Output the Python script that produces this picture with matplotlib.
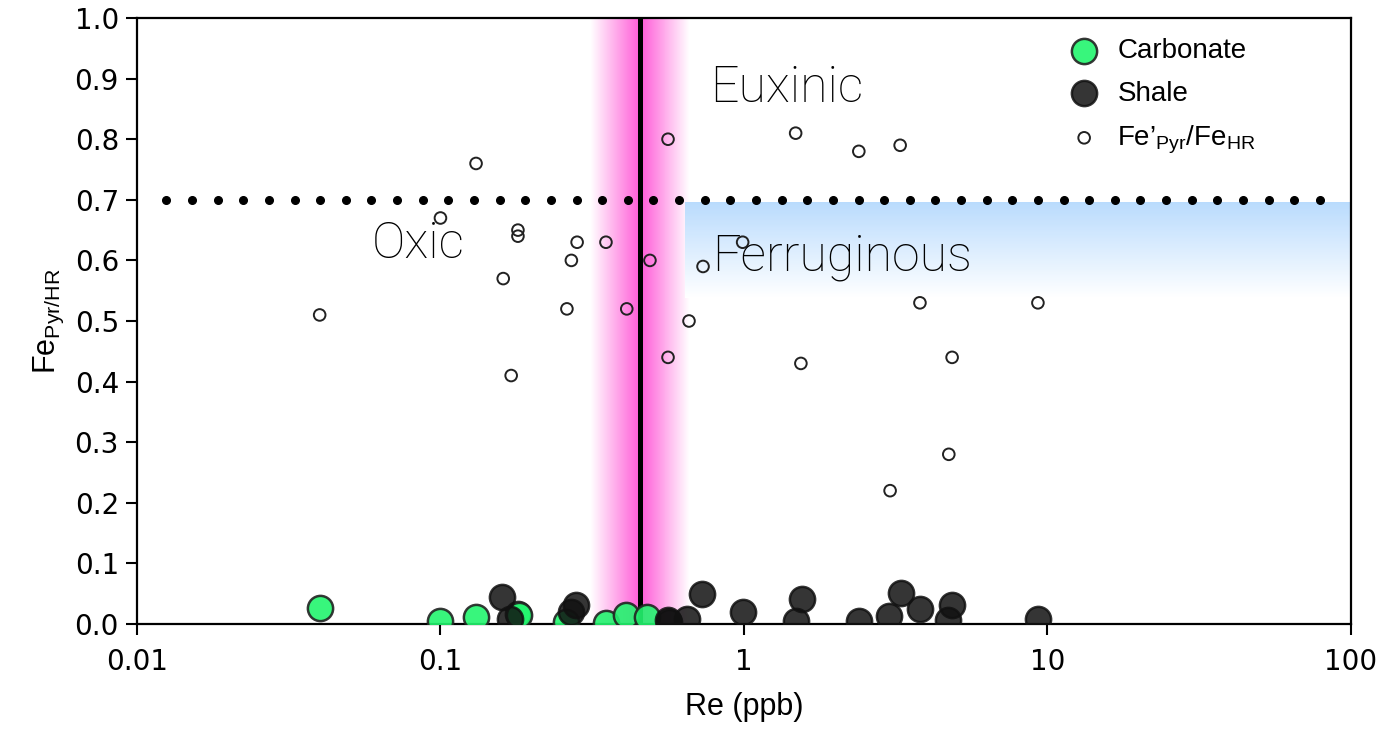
import numpy as np
import matplotlib
matplotlib.use("Agg")
import matplotlib.pyplot as plt
from matplotlib.colors import LinearSegmentedColormap
from matplotlib.ticker import FixedLocator, FixedFormatter, NullLocator

plt.rcParams['font.family'] = ['Liberation Sans', 'DejaVu Sans']
plt.rcParams['mathtext.fontset'] = 'custom'
plt.rcParams['mathtext.rm'] = 'Liberation Sans'
plt.rcParams['mathtext.it'] = 'Liberation Sans:italic'

# Fe'pyr/FeHR ratios (open circles)
re_ratio = [0.040, 0.100, 0.131, 0.161, 0.171, 0.180, 0.180, 0.261, 0.270, 0.282,
            0.351, 0.411, 0.490, 0.562, 0.562, 0.659, 0.733, 0.990, 1.48, 1.54,
            2.39, 3.03, 3.27, 3.80, 4.73, 4.85, 9.30]
fe_ratio = [0.51, 0.67, 0.76, 0.57, 0.41, 0.65, 0.64, 0.52, 0.60, 0.63,
            0.63, 0.52, 0.60, 0.80, 0.44, 0.50, 0.59, 0.63, 0.81, 0.43,
            0.78, 0.22, 0.79, 0.53, 0.28, 0.44, 0.53]

# carbonate samples
re_carb = [0.040, 0.100, 0.131, 0.180, 0.182, 0.260, 0.350, 0.410, 0.480]
fe_carb = [0.026, 0.005, 0.012, 0.017, 0.014, 0.004, 0.002, 0.014, 0.011]

# shale samples
re_shale = [0.160, 0.170, 0.270, 0.280, 0.560, 0.565, 0.650, 0.730, 0.990, 1.48,
            1.55, 2.40, 3.00, 3.30, 3.80, 4.70, 4.85, 9.30]
fe_shale = [0.045, 0.009, 0.020, 0.031, 0.007, 0.004, 0.009, 0.050, 0.020, 0.005,
            0.041, 0.005, 0.013, 0.051, 0.024, 0.006, 0.031, 0.009]

re_ticks = [0.01, 0.1, 1, 10, 100]
re_tick_labels = ['0.01', '0.1', '1', '10', '100']
fe_ticks = [round(0.1 * i, 1) for i in range(11)]

re_threshold = 0.455      # vertical boundary
fe_euxinic = 0.7          # Fe pyr/HR threshold
pink_band = (0.311, 0.664)
blue_band = (0.64, 100, 0.538, 0.697)

fig = plt.figure(figsize=(13.79, 7.48), dpi=100)
ax = fig.add_axes([0.0993, 0.1658, 0.8804, 0.8101])
ax.set_xscale('log')
ax.set_xlim(0.01, 100)
ax.set_ylim(0, 1.0)

# pink gradient band around the boundary
pink = LinearSegmentedColormap.from_list('pk', ['#ffffff', '#ff5ad7'])
xe = np.logspace(np.log10(pink_band[0]), np.log10(pink_band[1]), 201)
xc = np.sqrt(xe[:-1] * xe[1:])
lx = np.log10(xc)
l0, l1, lt = np.log10(pink_band[0]), np.log10(pink_band[1]), np.log10(re_threshold)
t = np.where(lx < lt, (lx - l0) / (lt - l0), (l1 - lx) / (l1 - lt))
ax.pcolormesh(xe, [0, 1], t[None, :], cmap=pink, vmin=0, vmax=1,
              shading='flat', zorder=0.5, rasterized=True)

# blue gradient under the 0.7 line
blue = LinearSegmentedColormap.from_list('bl', ['#ffffff', '#b9dbfd'])
ye = np.linspace(blue_band[2], blue_band[3], 80)
yc = (ye[:-1] + ye[1:]) / 2
tb = (yc - blue_band[2]) / (blue_band[3] - blue_band[2])
ax.pcolormesh([blue_band[0], blue_band[1]], ye, tb[:, None], cmap=blue,
              vmin=0, vmax=1, shading='flat', zorder=0.6, rasterized=True)

# dotted threshold line
xd = np.logspace(np.log10(0.0125), np.log10(79), 46)
ax.plot(xd, np.full_like(xd, fe_euxinic), 'o', ms=5.5, color='black', zorder=2)

ax.axvline(re_threshold, color='black', lw=3.6, zorder=2.5)

ax.scatter(re_ratio, fe_ratio, s=70, facecolors='none', edgecolors='#222222',
           linewidths=1.4, zorder=3, label='Fe’$_{\\rm Pyr}$/Fe$_{\\rm HR}$')
ax.scatter(re_carb, fe_carb, s=330, color='#22f56e', alpha=0.9,
           edgecolors='#222222', linewidths=1.8, zorder=4, label='Carbonate')
ax.scatter(re_shale, fe_shale, s=330, color='#111111', alpha=0.85,
           edgecolors='#111111', linewidths=1.8, zorder=4, label='Shale')

zone_font = dict(fontsize=36, family='Roboto', fontweight='light',
                 va='baseline', zorder=5)
ax.text(0.775, 0.861, 'Euxinic', **zone_font)
ax.text(0.0594, 0.604, 'Oxic', **zone_font)
ax.text(0.785, 0.584, 'Ferruginous', **zone_font)

h, l = ax.get_legend_handles_labels()
order = [1, 2, 0]
ax.legend([h[i] for i in order], [l[i] for i in order], loc='upper right',
          bbox_to_anchor=(0.933, 0.99), frameon=False, fontsize=20,
          handletextpad=0.2, labelspacing=0.6, borderaxespad=0.1)

ax.xaxis.set_major_locator(FixedLocator(re_ticks))
ax.xaxis.set_major_formatter(FixedFormatter(re_tick_labels))
ax.xaxis.set_minor_locator(NullLocator())
ax.set_yticks(fe_ticks)
ax.set_yticklabels([f'{v:.1f}' for v in fe_ticks])
ax.tick_params(labelsize=20, length=8, width=1.5, direction='out', pad=5)
ax.tick_params(axis='x', pad=9)
for lab in ax.get_xticklabels() + ax.get_yticklabels():
    lab.set_family('DejaVu Sans')
for s in ax.spines.values():
    s.set_linewidth(1.6)

ax.set_xlabel('Re (ppb)', fontsize=22, labelpad=12)
ax.set_ylabel('Fe$_{\\rm Pyr/HR}$', fontsize=22, labelpad=6)

fig.savefig('out.png', dpi=100)
